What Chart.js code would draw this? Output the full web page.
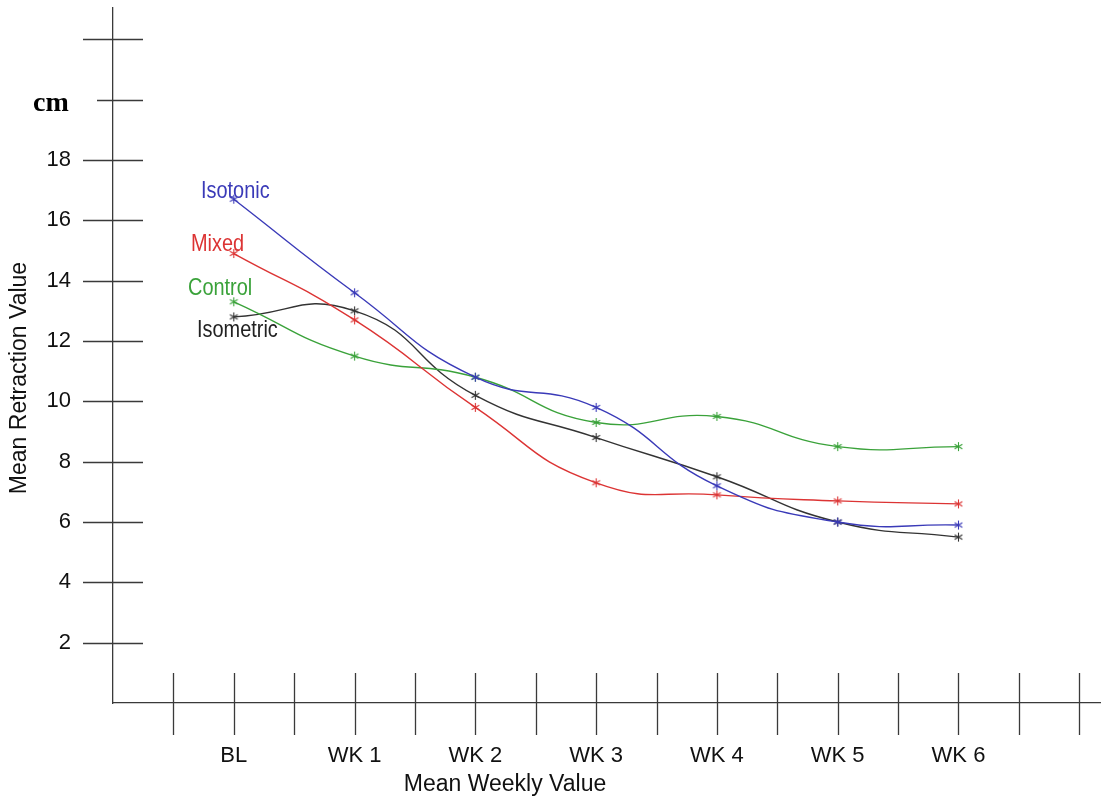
<!DOCTYPE html>
<html>
<head>
<meta charset="utf-8">
<script src="https://cdn.jsdelivr.net/npm/chart.js@4.4.0/dist/chart.umd.min.js"></script>
<style>
html,body{margin:0;padding:0;background:#fff;}
#wrap{width:1101px;height:801px;}
</style>
</head>
<body>
<div id="wrap"><canvas id="chart" width="1101" height="801"></canvas></div>
<script>

const weeks = ['BL','WK 1','WK 2','WK 3','WK 4','WK 5','WK 6'];

const isotonic  = [16.7, 13.6, 10.8, 9.8, 7.2, 6.0, 5.9];
const mixed     = [14.9, 12.7, 9.8, 7.3, 6.9, 6.7, 6.6];
const control   = [13.3, 11.5, 10.8, 9.3, 9.5, 8.5, 8.5];
const isometric = [12.8, 13.0, 10.2, 8.8, 7.5, 6.0, 5.5];

const yTicks = [2,4,6,8,10,12,14,16,18,20,22];

const colors = {
isotonic:'#3a3ab8',
mixed:'#dc3434',
control:'#3aa23a',
isometric:'#333333'
};

// little six armed asterisk used as point marker
function makeStar(color){
const c=document.createElement('canvas');
c.width=11; c.height=11;
const g=c.getContext('2d');
g.strokeStyle=color;
g.lineWidth=1.1;
for(let i=0;i<3;i++){
const a=Math.PI/2+i*Math.PI/3;
g.beginPath();
g.moveTo(5.5+Math.cos(a)*4.5,5.5+Math.sin(a)*4.5);
g.lineTo(5.5-Math.cos(a)*4.5,5.5-Math.sin(a)*4.5);
g.stroke();
}
return c;
}

function toPoints(arr){
return arr.map((v,i)=>({x:i+1,y:v}));
}

function series(label,arr,color){
return {
label:label,
data:toPoints(arr),
borderColor:color,
borderWidth:1.4,
tension:0.5,
pointStyle:makeStar(color),
pointRadius:5,
fill:false
};
}

// crossing tick marks, "cm", axis titles and series names
const decor={
id:'decor',
afterDraw(chart){
const ctx=chart.ctx;
const xs=chart.scales.x, ys=chart.scales.y;
ctx.save();
ctx.strokeStyle='#3a3a3a';
ctx.lineWidth=1.3;

yTicks.forEach(v=>{
const py=Math.round(ys.getPixelForValue(v))+0.5;
const x0 = v===20 ? 97 : 83;
ctx.beginPath();
ctx.moveTo(x0,py);
ctx.lineTo(143,py);
ctx.stroke();
});

for(let v=0.5;v<=8;v+=0.5){
const px=Math.round(xs.getPixelForValue(v))+0.5;
ctx.beginPath();
ctx.moveTo(px,673);
ctx.lineTo(px,735);
ctx.stroke();
}

ctx.fillStyle='#000';
ctx.font='bold 28px "Liberation Serif"';
ctx.textBaseline='alphabetic';
ctx.fillText('cm',33,111);

ctx.font='23px "Liberation Sans"';
ctx.fillStyle='#111';
ctx.textAlign='center';
ctx.textBaseline='middle';
ctx.fillText('Mean Weekly Value',505,785);

ctx.save();
ctx.translate(20,378);
ctx.rotate(-Math.PI/2);
ctx.fillText('Mean Retraction Value',0,0);
ctx.restore();

const names=[
['Isotonic',colors.isotonic,201,198],
['Mixed',colors.mixed,191,251],
['Control',colors.control,188,295],
['Isometric','#222',197,337]
];
ctx.font='24px "Liberation Sans"';
ctx.textAlign='left';
ctx.textBaseline='alphabetic';
names.forEach(n=>{
ctx.save();
ctx.translate(n[2],n[3]);
ctx.scale(0.83,1);
ctx.fillStyle=n[1];
ctx.fillText(n[0],0,0);
ctx.restore();
});

ctx.restore();
}
};

const tickFont={family:'"Liberation Sans", Arial, sans-serif',size:22};

new Chart(document.getElementById('chart'),{
type:'line',
data:{datasets:[
series('Isotonic',isotonic,colors.isotonic),
series('Mixed',mixed,colors.mixed),
series('Control',control,colors.control),
series('Isometric',isometric,colors.isometric)
]},
options:{
responsive:false,
animation:false,
layout:{autoPadding:false,padding:{top:8,right:0,left:0,bottom:0}},
plugins:{legend:{display:false},tooltip:{enabled:false}},
scales:{
x:{
type:'linear',
min:0,
max:8.18,
afterFit(s){s.height=98;s.paddingLeft=0;s.paddingRight=0;},
grid:{display:false,drawTicks:false},
border:{display:true,color:'#3a3a3a',width:1.3},
ticks:{
stepSize:0.5,
autoSkip:false,
maxRotation:0,
padding:40,
color:'#111',
font:tickFont,
callback:v=>(Number.isInteger(v)&&v>=1&&v<=7)?weeks[v-1]:''
}
},
y:{
min:0,
max:23.04,
afterFit(s){s.width=113;s.paddingTop=0;s.paddingBottom=0;},
grid:{display:false,drawTicks:false},
border:{display:true,color:'#3a3a3a',width:1.3},
ticks:{
stepSize:2,
padding:42,
color:'#111',
font:tickFont,
callback:v=>(v>=2&&v<=18&&v%2===0)?v:''
}
}
}
},
plugins:[decor]
});

</script>
</body>
</html>
